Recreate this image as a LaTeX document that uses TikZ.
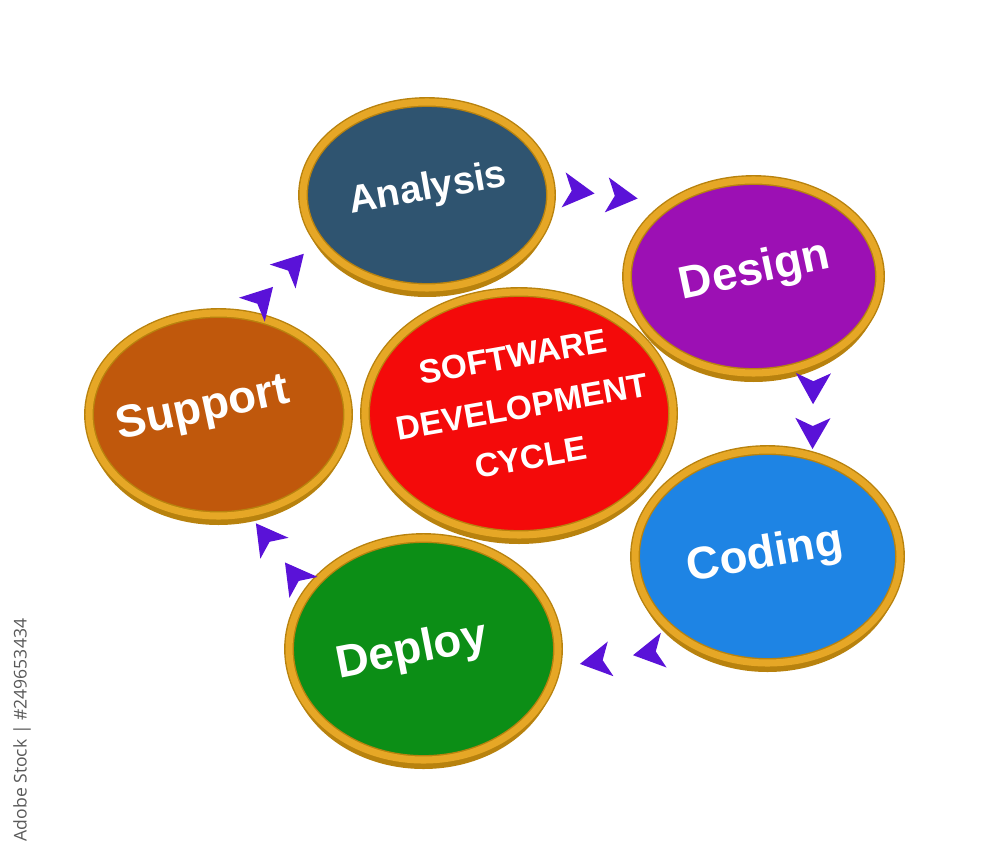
\documentclass[tikz,border=0pt]{standalone}
\usepackage{fontspec}
\setmainfont{Liberation Sans}
\newfontfamily\stockfont{Open Sans}
\usepackage{xcolor}
\usepackage{tikz}
\usetikzlibrary{arrows.meta,shapes.geometric,shadows,decorations.markings}

\definecolor{rimgold}{HTML}{E6A726}
\definecolor{rimdark}{HTML}{B8820E}
\definecolor{tippurple}{HTML}{5A12D8}
\definecolor{analysisblue}{HTML}{2F5470}
\definecolor{designpurple}{HTML}{9C10B4}
\definecolor{supportorange}{HTML}{C0580C}
\definecolor{cyclered}{HTML}{F40A0A}
\definecolor{codingblue}{HTML}{1E84E4}
\definecolor{deploygreen}{HTML}{0C8E16}

\begin{document}
\begin{tikzpicture}[
		disc/.style={ellipse, draw=rimdark, double=rimgold, double distance=2pt, line width=0.4pt, inner sep=0pt,
			general shadow={fill=rimdark, shadow yshift=-0.09cm}},
		caption/.style={text=white, align=center, inner sep=0pt, rotate=10, font=\bfseries\fontsize{13}{15}\selectfont},
		twotips/.style 2 args={postaction={decorate}, decoration={markings,
				mark=at position #1 with {\arrow{Stealth[length=3.1mm, width=3.5mm, inset=0.8mm, color=tippurple]}},
				mark=at position #2 with {\arrow{Stealth[length=3.1mm, width=3.5mm, inset=0.8mm, color=tippurple]}}}}
		]
		\useasboundingbox (0,0) rectangle (10,8.6);
		\node[disc, fill=analysisblue, minimum width=2.48cm, minimum height=1.86cm] (analysis) at (4.27,6.65) {};
		\node[disc, fill=designpurple, minimum width=2.53cm, minimum height=1.93cm] (design) at (7.535,5.835) {};
		\node[disc, fill=supportorange, minimum width=2.59cm, minimum height=2.03cm] (support) at (2.185,4.455) {};
		\node[disc, fill=cyclered, minimum width=3.08cm, minimum height=2.43cm] (cycle) at (5.19,4.465) {};
		\node[disc, fill=codingblue, minimum width=2.65cm, minimum height=2.13cm] (coding) at (7.675,3.035) {};
		\node[disc, fill=deploygreen, minimum width=2.69cm, minimum height=2.22cm] (deploy) at (4.235,2.11) {};

		\node[caption, font=\bfseries\fontsize{11}{14}\selectfont] (analysistext) at (4.28,6.70) {Analysis};
		\node[caption, rotate=2] (designtext) at (7.55,5.88) {Design};
		\node[caption, rotate=2] (supporttext) at (2.03,4.50) {Support};
		\node[caption, font=\bfseries\fontsize{9.5}{14.6}\selectfont] (cycletext) at (5.22,4.53) {SOFTWARE\\DEVELOPMENT\\CYCLE};
		\node[caption] (codingtext) at (7.65,3.04) {Coding};
		\node[caption, rotate=1] (deploytext) at (4.12,2.08) {Deploy};

		\path[twotips={0.36}{0.72}] (analysis.3) -- (design.138);
		\path[twotips={0.45}{0.93}] (design.-55) -- (coding.66);
		\path[twotips={0.44}{0.83}] (coding.-130) -- (deploy.-8);
		\path[twotips={0.38}{0.88}] (deploy.154) -- (support.-73);
		\path[twotips={0.37}{0.81}] (support.74) -- (analysis.202);

		\node[rotate=90, text=black!65, font=\stockfont\fontsize{5}{6}\selectfont] (stockid) at (0.22,1.30) {Adobe Stock | \#249653434};
\end{tikzpicture}
\end{document}
